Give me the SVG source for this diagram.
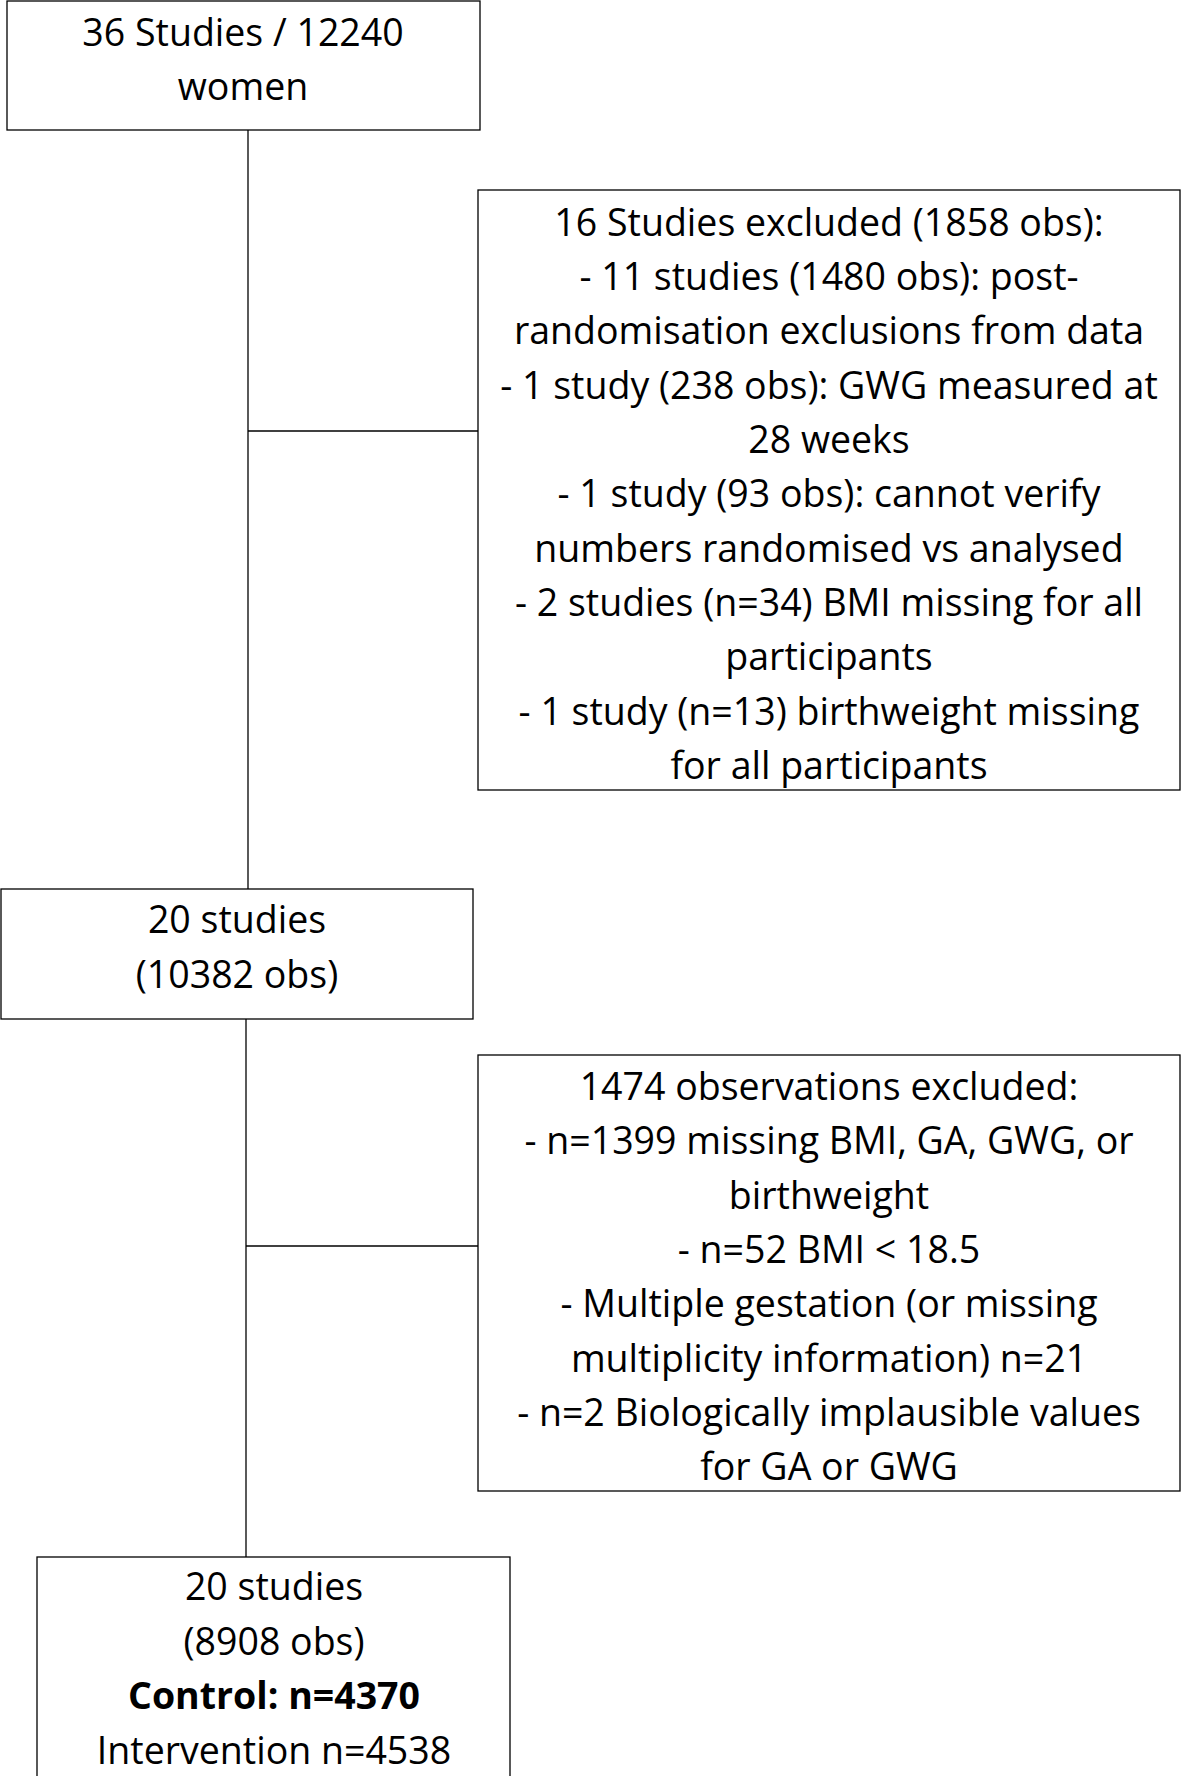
<svg xmlns="http://www.w3.org/2000/svg" width="1181" height="1776" viewBox="0 0 1181 1776">
<style>
rect{fill:#fff;stroke:#000;stroke-width:1.3}
line{stroke:#000;stroke-width:1.3}
text{font-family:"Open Sans","Liberation Sans",sans-serif;font-size:37.5px;text-anchor:middle;dominant-baseline:central;fill:#000}
.b{font-weight:bold}
</style>
<rect width="1181" height="1776" style="fill:#fff;stroke:none"/>
<g id="connectors">
<line x1="248" y1="130" x2="248" y2="889"/>
<line x1="248" y1="431" x2="478" y2="431"/>
<line x1="246" y1="1019" x2="246" y2="1557"/>
<line x1="246" y1="1246" x2="478" y2="1246"/>
</g>
<g id="n1"><rect x="7" y="1" width="473" height="129"/>
<text x="243" y="31">36 Studies / 12240</text><text x="243" y="85">women</text></g>
<g id="n2"><rect x="478" y="190" width="702" height="600"/>
<text x="829" y="221">16 Studies excluded (1858 obs):</text>
<text x="829" y="275">- 11 studies (1480 obs): post-</text>
<text x="829" y="329">randomisation exclusions from data</text>
<text x="829" y="384">- 1 study (238 obs): GWG measured at</text>
<text x="829" y="438">28 weeks</text>
<text x="829" y="492">- 1 study (93 obs): cannot verify</text>
<text x="829" y="547">numbers randomised vs analysed</text>
<text x="829" y="601">- 2 studies (n=34) BMI missing for all</text>
<text x="829" y="655">participants</text>
<text x="829" y="710">- 1 study (n=13) birthweight missing</text>
<text x="829" y="764">for all participants</text></g>
<g id="n3"><rect x="1" y="889" width="472" height="130"/>
<text x="237" y="918">20 studies</text><text x="237" y="973">(10382 obs)</text></g>
<g id="n4"><rect x="478" y="1055" width="702" height="436"/>
<text x="829" y="1085">1474 observations excluded:</text>
<text x="829" y="1139">- n=1399 missing BMI, GA, GWG, or</text>
<text x="829" y="1194">birthweight</text>
<text x="829" y="1248">- n=52 BMI &lt; 18.5</text>
<text x="829" y="1302">- Multiple gestation (or missing</text>
<text x="829" y="1357">multiplicity information) n=21</text>
<text x="829" y="1411">- n=2 Biologically implausible values</text>
<text x="829" y="1465">for GA or GWG</text></g>
<g id="n5"><rect x="37" y="1557" width="473" height="222"/>
<text x="274" y="1585">20 studies</text><text x="274" y="1640">(8908 obs)</text>
<text x="274" y="1694" class="b">Control: n=4370</text>
<text x="274" y="1749">Intervention n=4538</text></g>
</svg>
